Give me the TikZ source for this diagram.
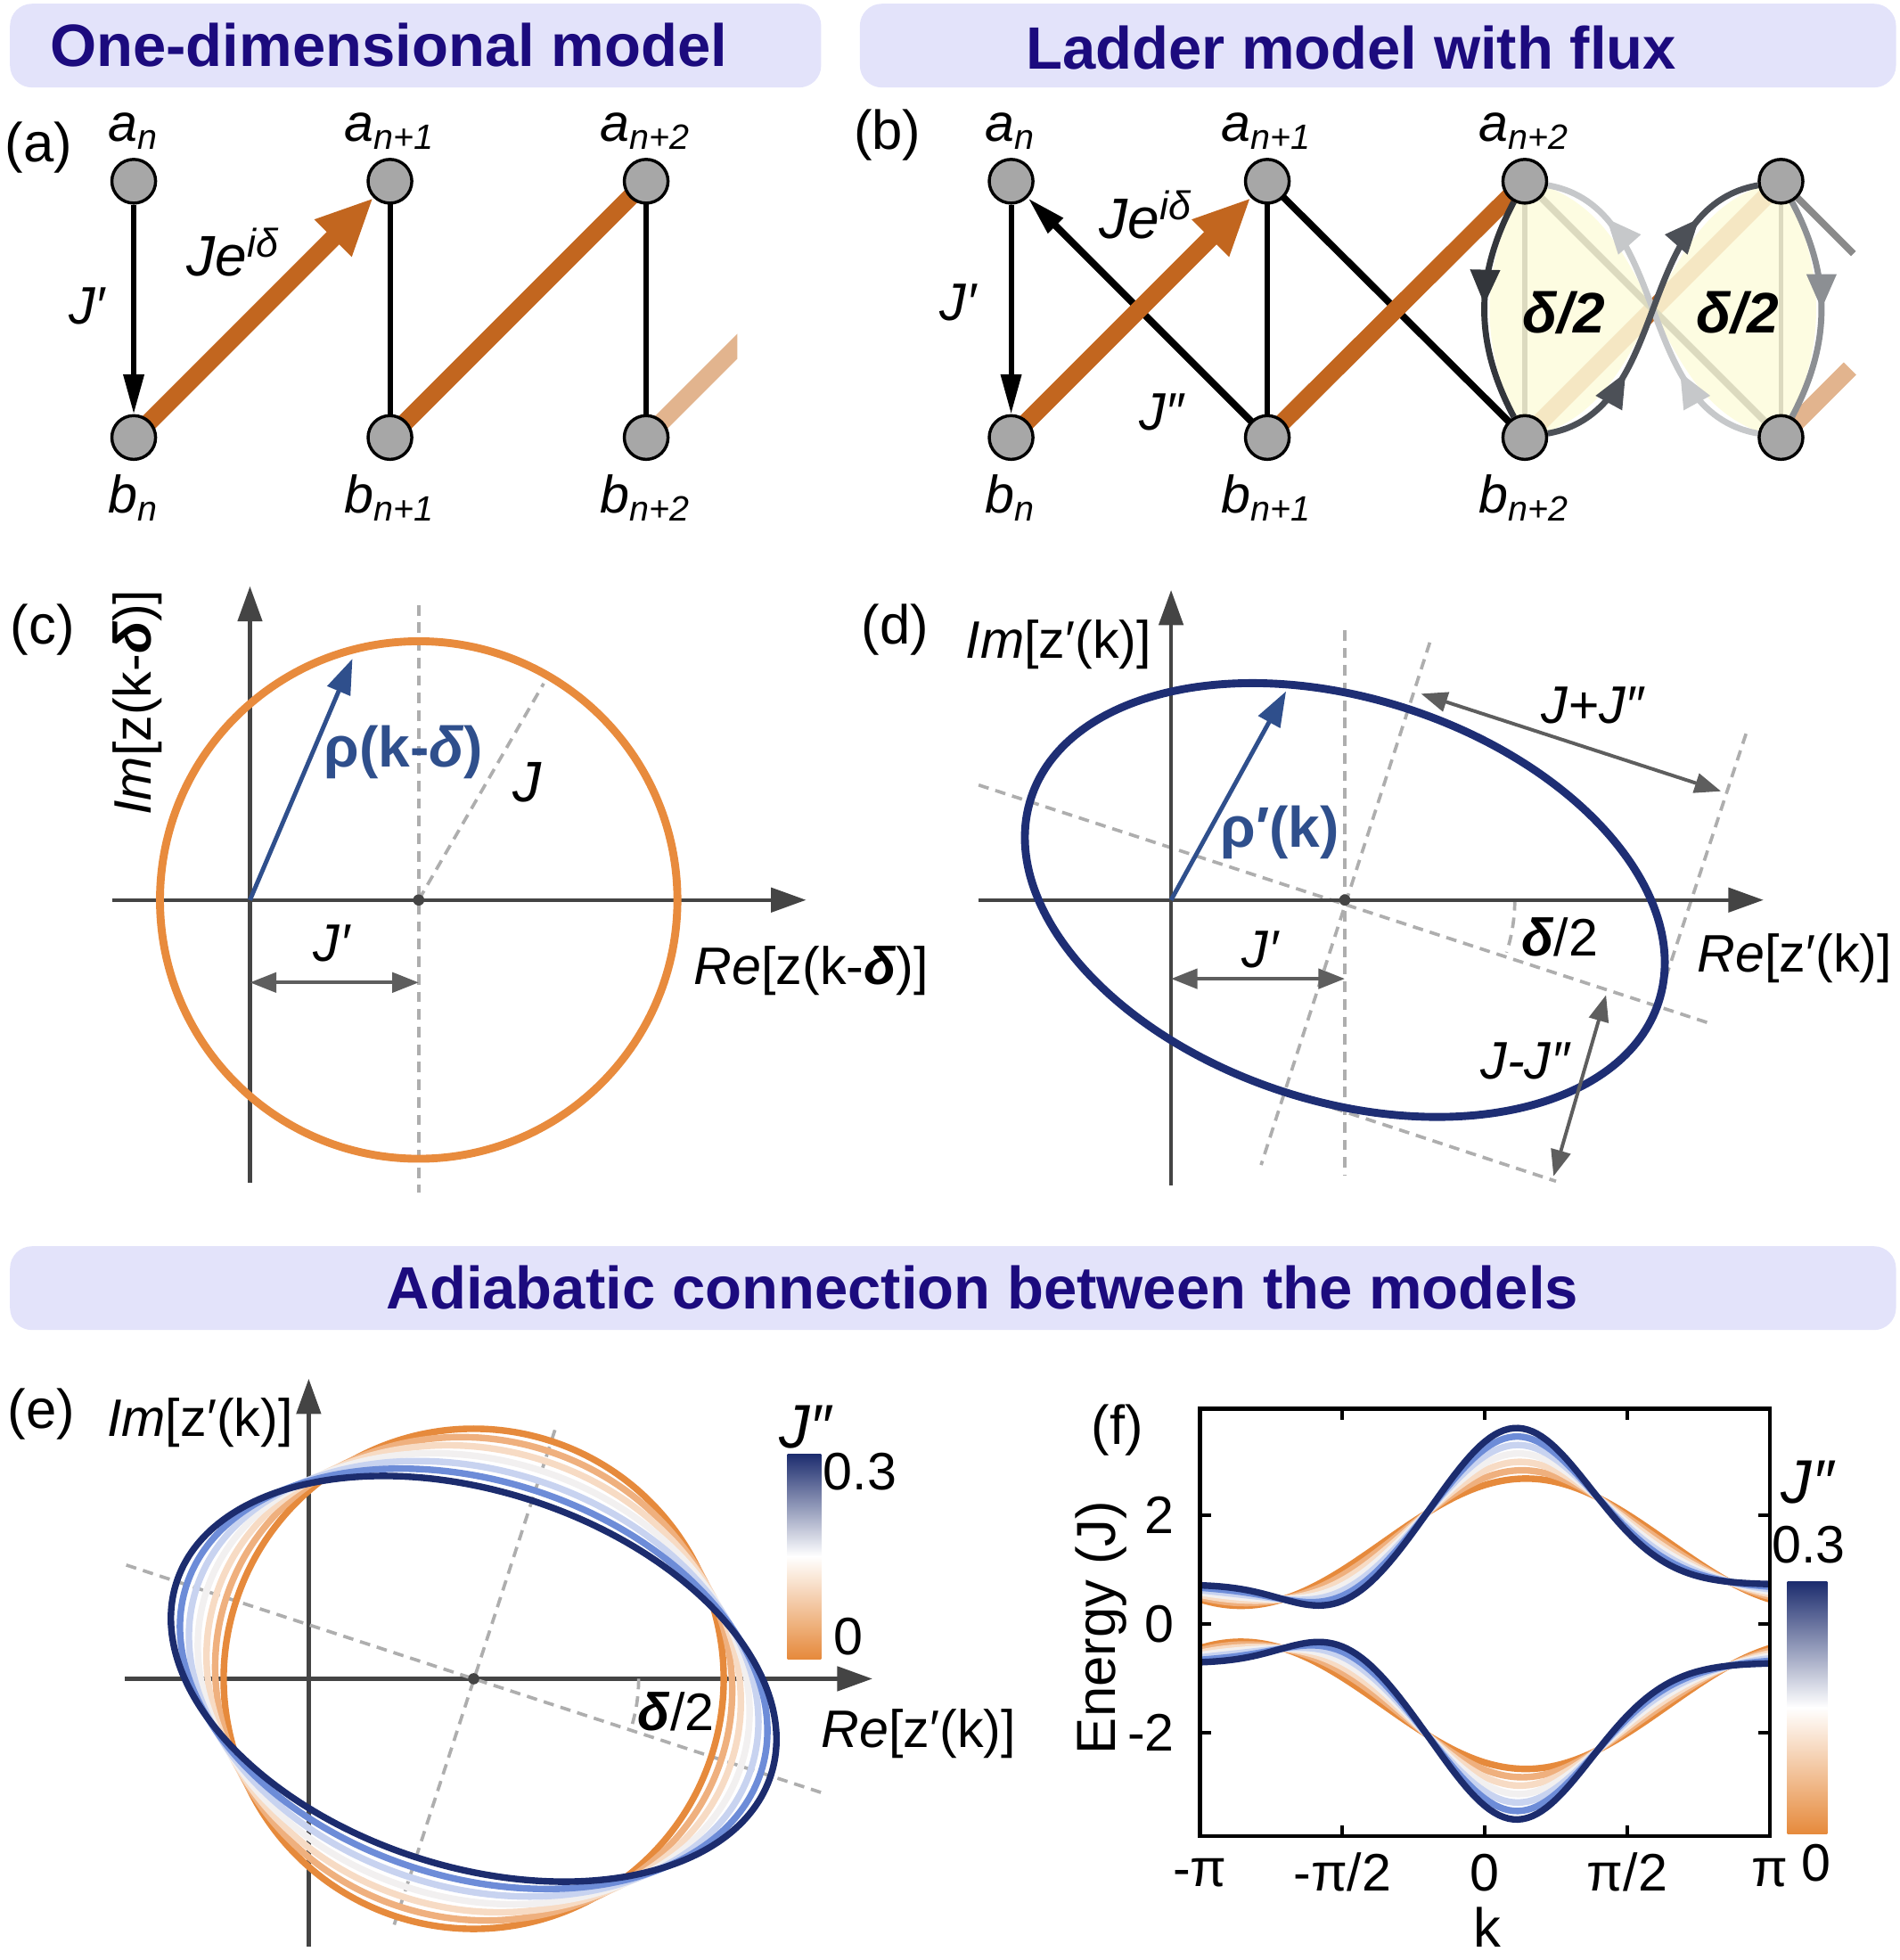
\documentclass[tikz,border=0pt]{standalone}
\usepackage{fontspec}
\setmainfont{Liberation Sans}
\usetikzlibrary{arrows.meta,decorations.markings}
\definecolor{barfill}{HTML}{E3E3FA}
\definecolor{titleblue}{HTML}{1C0B7E}
\definecolor{hoporange}{HTML}{C2661F}
\definecolor{fadeorange}{HTML}{E2B48E}
\definecolor{sitegray}{HTML}{A7A7A7}
\definecolor{axisgray}{HTML}{444444}
\definecolor{dashgray}{HTML}{AEAEAE}
\definecolor{measgray}{HTML}{5E5E5E}
\definecolor{circorange}{HTML}{E88B3D}
\definecolor{ellnavy}{HTML}{1E2E74}
\definecolor{rhoblue}{HTML}{2F4F8C}
\definecolor{lensfill}{HTML}{FDFBDC}
\definecolor{loopA}{HTML}{33363B}
\definecolor{loopB}{HTML}{4C5057}
\definecolor{loopC}{HTML}{8C8F93}
\definecolor{loopD}{HTML}{C6C8CA}
\definecolor{stubgray}{HTML}{8A8A8A}
\definecolor{cbA}{HTML}{E68A3C}
\definecolor{cbB}{HTML}{EFB07E}
\definecolor{cbC}{HTML}{F7DBC4}
\definecolor{cbD}{HTML}{F2F0F0}
\definecolor{cbE}{HTML}{C8D3F0}
\definecolor{cbF}{HTML}{6D8CD8}
\definecolor{cbG}{HTML}{1C2C6E}
\newcommand\fsz[1]{\fontsize{#1}{#1}\selectfont}
\pgfdeclarelayer{bonds}
\pgfdeclarelayer{loops}
\pgfsetlayers{bonds,loops,main}
\tikzset{
  site/.style={circle,draw=black,line width=0.7pt,fill=sitegray,minimum size=0.35cm,inner sep=0pt},
  sitelbl/.style={font=\fsz{12}\itshape},
  panlbl/.style={font=\fsz{12.5}},
  txt/.style={font=\fsz{12}},
  ttl/.style={text=titleblue,font=\fsz{13.6}\bfseries},
  bond/.style={line width=1.2pt},
  jhop/.style={line width=1.6pt},
  ohop/.style={hoporange,line width=4pt},
  arr/.style={-{Triangle[length=9pt,width=4.5pt]}},
  oarr/.style={-{Triangle[length=13pt,width=11pt]}},
  axis/.style={axisgray,line width=0.9pt,-{Triangle[length=8pt,width=5.5pt]}},
  guide/.style={dashgray,line width=0.75pt,dash pattern=on 2.4pt off 1.6pt},
  measure/.style={measgray,line width=0.8pt,{Triangle[length=6pt,width=4.5pt]}-{Triangle[length=6pt,width=4.5pt]}},
  loopline/.style={line width=1.4pt},
  mk/.style={postaction={decorate,decoration={markings,mark=at position #1 with {\arrow{Triangle[length=8pt,width=6.5pt]}}}}},
}
\begin{document}
\begin{tikzpicture}[declare function={
    gs(\x)=exp(-(\x)*(\x));
    ob(\p)=1.5+1.17*cos(\p-26);
    bb(\p)=0.72+2.88*gs((\p/57.2958-0.35)/1.17)-0.5*gs((\p/57.2958+1.65)/0.78);
    en(\p,\q)=(1-\q)*ob(\p)+\q*bb(\p);}]
\useasboundingbox (0,0) rectangle (15.2,-15.68);

\fill[barfill,rounded corners=5pt] (0.08,-0.03) rectangle (6.57,-0.70);
\fill[barfill,rounded corners=5pt] (6.88,-0.03) rectangle (15.17,-0.70);
\fill[barfill,rounded corners=5pt] (0.08,-9.97) rectangle (15.17,-10.64);
\node[ttl] (ttlone) at (3.11,-0.36) {One-dimensional model};
\node[ttl] (ttlladder) at (10.81,-0.38) {Ladder model with flux};
\node[ttl] (ttladia) at (7.86,-10.30) {Adiabatic connection between the models};

\node[panlbl] (pa) at (0.31,-1.18) {(a)};
\node[panlbl] (pb) at (7.10,-1.08) {(b)};
\node[panlbl] (pc) at (0.34,-5.04) {(c)};
\node[panlbl] (pd) at (7.16,-5.04) {(d)};
\node[panlbl] (pe) at (0.33,-11.31) {(e)};
\node[panlbl] (pf) at (8.94,-11.44) {(f)};

\foreach \i/\x/\s in {1/1.07/n,2/3.12/n+1,3/5.17/n+2}{
  \node[site] (a\i) at (\x,-1.45) {};
  \node[site] (b\i) at (\x,-3.50) {};
  \node[sitelbl] (la\i) at (\x,-1.05) {a\textsubscript{\s}};
  \node[sitelbl] (lb\i) at (\x,-3.98) {b\textsubscript{\s}};
}
\begin{pgfonlayer}{bonds}
\draw[bond,arr] (a1) -- (b1);
\draw[bond] (a2.center) -- (b2.center);
\draw[bond] (a3.center) -- (b3.center);
\draw[ohop,oarr] (b1.center) -- (a2);
\draw[ohop] (b2.center) -- (a3.center);
\begin{scope}
\clip (5.0,-2.5) rectangle (5.90,-3.7);
\draw[ohop,fadeorange] (b3.center) -- ++(45:1.4);
\end{scope}
\end{pgfonlayer}
\node[txt] (jpa) at (0.70,-2.45) {\textit{J′}};
\node[font=\fsz{13}] (jea) at (1.87,-2.02) {\textit{Je\textsuperscript{iδ}}};

\foreach \i/\x/\s in {1/8.09/n,2/10.14/n+1,3/12.20/n+2}{
  \node[sitelbl] (lpa\i) at (\x,-1.05) {a\textsubscript{\s}};
  \node[sitelbl] (lpb\i) at (\x,-3.98) {b\textsubscript{\s}};
}
\foreach \i/\x in {1/8.09,2/10.14,3/12.20,4/14.25}{
  \node[site] (pa\i) at (\x,-1.45) {};
  \node[site] (pb\i) at (\x,-3.50) {};
}
\begin{pgfonlayer}{bonds}
\draw[bond,arr] (pa1) -- (pb1);
\draw[jhop,arr] (pb2.center) -- (pa1);
\draw[ohop,oarr] (pb1.center) -- (pa2);
\draw[bond] (pa2.center) -- (pb2.center);
\draw[jhop] (pa2.center) -- (pb3.center);
\draw[ohop] (pb2.center) -- (pa3.center);
\draw[ohop] (pb3.center) -- (pa4.center);
\draw[jhop] (pa3.center) -- (pb4.center);
\draw[bond] (pa3.center) -- (pb3.center);
\draw[bond] (pa4.center) -- (pb4.center);
\draw[jhop,stubgray] (pa4.center) -- ++(-45:0.82);
\draw[ohop,fadeorange] (pb4.center) -- ++(45:0.78);
\end{pgfonlayer}
\begin{pgfonlayer}{loops}
\fill[lensfill,opacity=0.87] (pa3.center) to[bend right=28] (pb3.center) to[out=10,in=190] (pa4.center) to[bend left=28] (pb4.center) to[out=170,in=-10] (pa3.center) -- cycle;
\draw[loopline,loopD,mk=0.3,mk=0.8] (pb4) to[out=170,in=-10] (pa3);
\draw[loopline,loopC,mk=0.5] (pa4) to[bend left=28] (pb4);
\draw[loopline,loopB,mk=0.3,mk=0.8] (pb3) to[out=10,in=190] (pa4);
\draw[loopline,loopA,mk=0.48] (pa3) to[bend right=28] (pb3);
\end{pgfonlayer}
\node[font=\fsz{13}\bfseries\itshape] (dla) at (12.51,-2.50) {δ/2};
\node[font=\fsz{13}\bfseries\itshape] (dlb) at (13.90,-2.50) {δ/2};
\node[txt] (jpb) at (7.67,-2.42) {\textit{J′}};
\node[font=\fsz{13}] (jeb) at (9.17,-1.72) {\textit{Je\textsuperscript{iδ}}};
\node[txt] (jppb) at (9.30,-3.30) {\textit{J″}};

\coordinate (co) at (2.00,-7.20);
\coordinate (cc) at (3.35,-7.20);
\draw[guide] (3.35,-4.84) -- (3.35,-9.54);
\draw[axis] (0.90,-7.20) -- (6.45,-7.20);
\draw[axis] (2.00,-9.46) -- (2.00,-4.69);
\draw[circorange,line width=1.8pt] (cc) circle (2.07);
\draw[guide] (cc) -- ++(60:2.0);
\fill[axisgray] (cc) circle (0.045);
\draw[rhoblue,line width=1.0pt,-{Triangle[length=8pt,width=5.5pt]}] (co) -- (2.82,-5.27);
\draw[measure] (2.00,-7.86) -- (3.35,-7.86);
\node[font=\fsz{13}\bfseries,text=rhoblue] (rhoc) at (3.23,-6.02) {ρ(k-\textit{δ})};
\node[font=\fsz{13}] (jc) at (4.22,-6.26) {\textit{J}};
\node[txt] (jpc) at (2.66,-7.55) {\textit{J′}};
\node[txt,rotate=90] (imc) at (1.10,-5.62) {\textit{Im}[z(k-\textbf{\textit{δ}})]};
\node[txt] (rec) at (6.49,-7.77) {\textit{Re}[z(k-\textbf{\textit{δ}})]};

\coordinate (do) at (9.37,-7.20);
\coordinate (dc) at (10.76,-7.20);
\draw[guide] (10.76,-5.04) -- (10.76,-9.40);
\draw[guide] (11.44,-5.14) -- (10.09,-9.32);
\draw[guide] (13.97,-5.87) -- (13.22,-8.15);
\draw[guide] (7.83,-6.28) -- (13.69,-8.19);
\draw[guide] (10.26,-8.73) -- (12.45,-9.45);
\draw[guide] ([shift={(0:1.36)}]dc) arc[start angle=0,end angle=-18,radius=1.36];
\draw[axis] (7.83,-7.20) -- (14.11,-7.20);
\draw[axis] (9.37,-9.48) -- (9.37,-4.72);
\draw[ellnavy,line width=1.8pt,rotate around={-18:(dc)}] (dc) ellipse [x radius=2.64,y radius=1.61];
\fill[axisgray] (dc) circle (0.045);
\draw[rhoblue,line width=1.0pt,-{Triangle[length=8pt,width=5.5pt]}] (do) -- (10.29,-5.53);
\draw[measure] (9.37,-7.83) -- (10.76,-7.83);
\draw[measure] (11.37,-5.55) -- (13.77,-6.33);
\draw[measure] (12.85,-7.96) -- (12.43,-9.41);
\node[font=\fsz{13}\bfseries,text=rhoblue] (rhod) at (10.24,-6.66) {ρ′(k)};
\node[txt] (jpd) at (10.09,-7.60) {\textit{J′}};
\node[txt] (dld) at (12.48,-7.50) {\textbf{\textit{δ}}/2};
\node[txt] (jsum) at (12.75,-5.64) {\textit{J+J″}};
\node[txt] (jdif) at (12.21,-8.49) {\textit{J-J″}};
\node[txt] (imd) at (8.47,-5.16) {\textit{Im}[z′(k)]};
\node[txt] (red) at (14.36,-7.67) {\textit{Re}[z′(k)]};

\coordinate (eo) at (3.79,-13.43);
\draw[axis] (1.00,-13.43) -- (6.98,-13.43);
\draw[axis] (2.47,-15.57) -- (2.47,-11.03);
\draw[guide] (1.01,-12.52) -- (6.57,-14.34);
\draw[guide] (4.44,-11.44) -- (3.15,-15.41);
\draw[guide] ([shift={(0:1.32)}]eo) arc[start angle=0,end angle=-18,radius=1.32];
\foreach \t/\c in {0/cbA,1/cbB,2/cbC,3/cbD,4/cbE,5/cbF,6/cbG}{
  \draw[\c,line width=1.5pt,rotate around={-18:(eo)}] (eo) ellipse [x radius={2.0+0.0833*\t},y radius={2.0-0.0833*\t}];
}
\fill[axisgray] (eo) circle (0.045);
\node[txt] (dle) at (5.41,-13.69) {\textbf{\textit{δ}}/2};
\node[txt] (ime) at (1.60,-11.38) {\textit{Im}[z′(k)]};
\node[txt] (ree) at (7.35,-13.87) {\textit{Re}[z′(k)]};
\shade[top color=cbG,middle color=cbF,bottom color=white] (6.30,-11.63) rectangle (6.57,-12.45);
\shade[top color=white,middle color=cbC,bottom color=cbA] (6.30,-12.45) rectangle (6.57,-13.27);
\node[font=\fsz{14}] (jppe) at (6.45,-11.42) {\textit{J″}};
\node[txt] (cbtope) at (6.88,-11.77) {0.3};
\node[txt] (cbbote) at (6.79,-13.09) {0};

\begin{scope}
\clip (9.60,-11.27) rectangle (14.16,-14.69);
\begin{scope}[shift={(11.88,-12.99)},x=0.012667cm,y=0.435cm]
\foreach \t/\c in {0/cbA,1/cbB,2/cbC,3/cbD,4/cbE,5/cbF,6/cbG}{
  \draw[\c,line width=1.5pt] plot[domain=-180:180,samples=121,variable=\kx] ({\kx},{en(\kx,\t/6)});
  \draw[\c,line width=1.5pt] plot[domain=-180:180,samples=121,variable=\kx] ({\kx},{-en(\kx,\t/6)});
}
\end{scope}
\end{scope}
\draw[line width=0.9pt] (9.60,-11.27) rectangle (14.16,-14.69);
\foreach \xx in {10.74,11.88,13.02}{
  \draw[line width=0.9pt] (\xx,-14.69) -- ++(0,0.09);
  \draw[line width=0.9pt] (\xx,-11.27) -- ++(0,-0.09);
}
\foreach \yy/\l in {-12.12/2,-12.99/0,-13.86/-2}{
  \draw[line width=0.9pt] (9.60,\yy) -- ++(0.09,0);
  \draw[line width=0.9pt] (14.16,\yy) -- ++(-0.09,0);
  \node[txt,anchor=east] at (9.52,\yy) {\l};
}
\foreach \xx/\l in {9.60/{-π},10.74/{-π/2},11.88/{0},13.02/{π/2},14.16/{π}}{
  \node[txt] at (\xx,-14.98) {\l};
}
\node[font=\fsz{12.5},rotate=90] (enf) at (8.81,-13.02) {Energy (J)};
\node[font=\fsz{12.5}] (kf) at (11.90,-15.42) {k};
\shade[top color=cbG,middle color=cbF,bottom color=white] (14.30,-12.65) rectangle (14.62,-13.66);
\shade[top color=white,middle color=cbC,bottom color=cbA] (14.30,-13.66) rectangle (14.62,-14.67);
\node[font=\fsz{14}] (jppf) at (14.47,-11.86) {\textit{J″}};
\node[txt] (cbtopf) at (14.47,-12.36) {0.3};
\node[txt] (cbbotf) at (14.53,-14.90) {0};
\end{tikzpicture}
\end{document}
